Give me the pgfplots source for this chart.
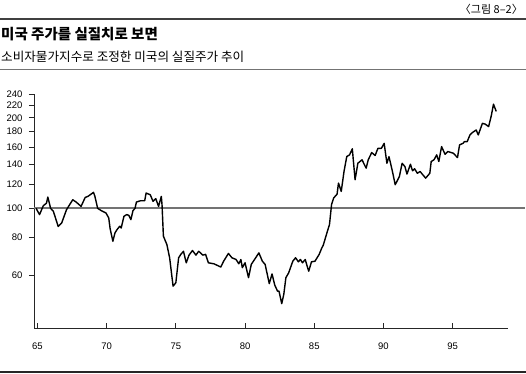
\documentclass[border=0pt]{standalone}
\usepackage{fontspec}
\setmainfont{Liberation Sans}
\newfontfamily\kr{Noto Sans CJK KR}
\usepackage{pgfplots}
\pgfplotsset{compat=1.18}
\begin{document}
\begin{tikzpicture}
\useasboundingbox (0pt,0pt) rectangle (526pt,373pt);
\fill[white] (0pt,0pt) rectangle (526pt,373pt);
\draw[black!75, line width=1.4pt] (0pt,354pt) -- (526pt,354pt);
\draw[black!55, line width=0.9pt] (0pt,303.7pt) -- (526pt,303.7pt);
\draw[black!85, line width=2pt] (0pt,1.2pt) -- (526pt,1.2pt);
\node[anchor=east, inner sep=0pt, font=\kr\fontsize{11}{12}\selectfont] at (523pt,364pt) {〈그림 8–2〉};
\node[anchor=west, inner sep=0pt, font=\kr\bfseries\fontsize{14.5}{16}\selectfont] at (1pt,338.5pt) {미국 주가를 실질치로 보면};
\node[anchor=west, inner sep=0pt, font=\kr\fontsize{12.6}{14}\selectfont] at (1pt,316pt) {소비자물가지수로 조정한 미국의 실질주가 추이};
\begin{axis}[
  at={(34pt,45pt)}, anchor=south west, scale only axis,
  width=474pt, height=234pt,
  xmin=64.75, xmax=99, ymode=log, ymin=40, ymax=240,
  clip=false,
  axis x line*=bottom, axis y line*=left,
  axis line style={black!85, line width=1pt},
  xtick={65,70,75,80,85,90,95},
  xticklabels={65,70,75,80,85,90,95},
  ytick={60,80,100,120,140,160,180,200,220,240},
  yticklabels={60,80,100,120,140,160,180,200,220,240},
  minor tick num=0, log basis y=10,
  tick align=outside,
  major tick length=5pt,
  xtick style={black!85, line width=0.8pt, yshift=5pt},
  ytick style={black!85, line width=0.8pt},
  ticklabel style={font=\fontsize{9.5}{10}\selectfont},
  xticklabel style={yshift=-6pt},
  yticklabel style={xshift=-3pt},
  /pgf/number format/assume math mode=true,
]
\addplot[black!55, line width=1.7pt, forget plot] coordinates {(64.75,100) (100.25,100)};
\addplot[black, line width=1.4pt, line join=round] coordinates {
(64.9,100) (65.15,95.3) (65.42,102) (65.65,104) (65.75,109) (65.95,100) (66.15,97.7)
(66.5,87) (66.75,89.4) (67.1,99) (67.55,106.8) (67.82,104.7) (68.15,101.5) (68.45,108.7)
(68.65,109.6) (69.05,113) (69.15,109.6) (69.35,100) (69.62,98.2) (69.95,96.5) (70.15,92.9)
(70.25,85.6) (70.45,77.7) (70.6,82.8) (70.75,85.0) (70.95,87.2) (71.05,86) (71.25,94.1)
(71.45,95.3) (71.6,94.8) (71.75,91.7) (71.9,98.2) (72.05,100) (72.15,104.9) (72.45,106)
(72.75,106) (72.85,112.4) (73.15,111) (73.35,105.5) (73.55,107.7) (73.75,101.5) (73.95,109.6)
(74.0,102.9) (74.1,80.8) (74.35,75.8) (74.55,68.5) (74.8,55.1) (75.0,56.6) (75.2,68.5)
(75.35,70.2) (75.55,72.0) (75.75,65.9) (75.95,69.9) (76.2,72.4) (76.45,69.9) (76.65,72)
(76.95,69.9) (77.15,70.3) (77.35,65.9) (77.75,65.4) (78.25,63.8) (78.45,66.7) (78.8,70.8)
(79.05,68.5) (79.35,67.6) (79.55,65.4) (79.7,67.6) (79.8,63.5) (80.0,65.9) (80.25,58.8)
(80.45,65.1) (81.0,71.1) (81.25,66.7) (81.45,65.1) (81.75,56.2) (81.95,60.5) (82.15,55.5)
(82.35,53) (82.45,53.1) (82.65,48.2) (82.8,51.8) (82.95,58.8) (83.15,61) (83.45,66.7)
(83.65,68.5) (83.85,66.4) (84.0,67.6) (84.15,65.9) (84.35,67.6) (84.45,65.1) (84.6,61.8)
(84.8,66.4) (85.05,66.7) (85.35,70.2) (85.55,73.9) (85.65,75.4) (85.95,83.9) (86.1,88.3)
(86.25,102.9) (86.4,108.2) (86.65,111.5) (86.75,121.3) (86.95,113.8) (87.15,132.6) (87.35,148.7)
(87.55,150.6) (87.75,157.7) (87.95,124.5) (88.15,141.2) (88.45,145) (88.75,136) (88.9,145)
(89.15,153.2) (89.4,149.9) (89.6,158.3) (89.85,158.3) (90.05,164.5) (90.25,141.2) (90.4,148.6)
(90.65,132.6) (90.85,119.8) (91.15,127.6) (91.35,141.2) (91.55,137.7) (91.7,130) (91.95,140.2)
(92.1,133.3) (92.25,135.4) (92.45,130.8) (92.65,132.6) (92.8,130) (93.05,126) (93.35,130.8)
(93.45,143.1) (93.65,145) (93.85,150.6) (94.0,143.1) (94.2,160.4) (94.45,151.3) (94.65,154.5)
(95.05,152.5) (95.35,147.5) (95.5,162.6) (95.75,164.5) (95.85,166.6) (96.05,166.6) (96.25,175.4)
(96.45,179) (96.7,182.2) (96.85,175.4) (97.15,191.7) (97.35,190.6) (97.6,187) (97.8,204)
(97.95,222) (98.15,210)
};
\end{axis}
\end{tikzpicture}
\end{document}
